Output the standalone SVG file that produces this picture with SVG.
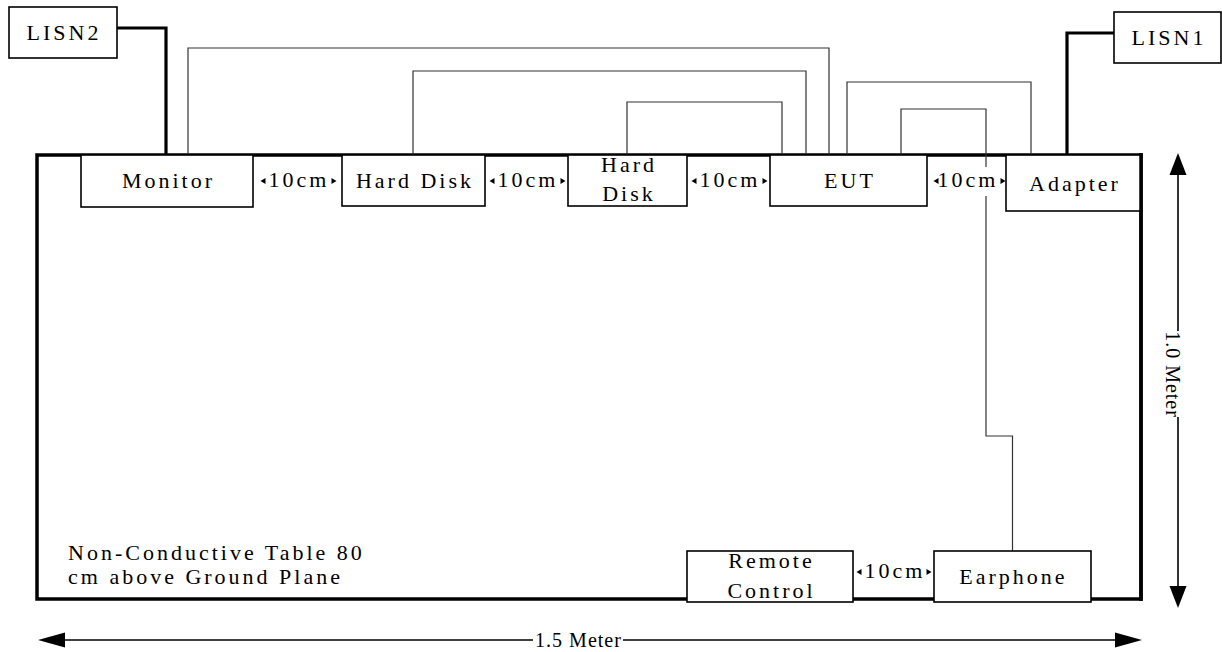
<svg xmlns="http://www.w3.org/2000/svg" width="1222" height="652" viewBox="0 0 1222 652">
<style>
.box{fill:#fff;stroke:#000;stroke-width:1.6}
.t{font-family:"Liberation Serif","Times New Roman",serif;font-size:22px;letter-spacing:3px;fill:#000;text-anchor:middle}
.tl{font-family:"Liberation Serif","Times New Roman",serif;font-size:22px;letter-spacing:3px;fill:#000}
.dim{font-family:"Liberation Serif","Times New Roman",serif;font-size:20px;letter-spacing:1px;fill:#000;text-anchor:middle}
.cable{fill:none;stroke:#333;stroke-width:1.2}
.power{fill:none;stroke:#000;stroke-width:3.2}
.dl{fill:none;stroke:#000;stroke-width:1.6}
.tri{fill:#000}
</style>
<rect width="1222" height="652" fill="#fff"/>
<g id="table">
<rect x="37" y="155" width="1104" height="444" fill="none" stroke="#000" stroke-width="3.5"/>
<text class="tl" x="68" y="560">Non-Conductive Table 80</text>
<text class="tl" x="68" y="584">cm above Ground Plane</text>
</g>
<g id="connectors">
<polyline class="power" points="117,28 166,28 166,155"/>
<polyline class="power" points="1114,33 1067,33 1067,155"/>
<polyline class="cable" points="188,155 188,48 829,48 829,155"/>
<polyline class="cable" points="413,155 413,71 806,71 806,155"/>
<polyline class="cable" points="627,155 627,102 782,102 782,155"/>
<polyline class="cable" points="847,155 847,82 1031,82 1031,155"/>
<polyline class="cable" points="901,155 901,109 986,109 986,436 1012.5,436 1012.5,551"/>
</g>
<g id="LISN2"><rect class="box" x="9" y="7" width="108" height="51"/><text class="t" x="64" y="40">LISN2</text></g>
<g id="LISN1"><rect class="box" x="1114" y="12" width="107" height="51"/><text class="t" x="1169" y="45">LISN1</text></g>
<g id="monitor"><rect class="box" x="81" y="155" width="172" height="52"/><text class="t" x="168.5" y="188">Monitor</text></g>
<g id="harddisk1"><rect class="box" x="342" y="155" width="143" height="51"/><text class="t" x="415" y="188">Hard Disk</text></g>
<g id="harddisk2"><rect class="box" x="568" y="155" width="119" height="51"/><text class="t" x="629" y="172">Hard</text><text class="t" x="629" y="201">Disk</text></g>
<g id="eut"><rect class="box" x="770" y="155" width="157" height="51"/><text class="t" x="850" y="188">EUT</text></g>
<g id="adapter"><rect class="box" x="1006" y="155" width="135" height="56"/><text class="t" x="1075" y="191">Adapter</text></g>
<g id="remote"><rect class="box" x="687" y="551" width="166" height="51"/><text class="t" x="771.5" y="568">Remote</text><text class="t" x="771.5" y="598">Control</text></g>
<g id="earphone"><rect class="box" x="934" y="551" width="157" height="51"/><text class="t" x="1013.5" y="584">Earphone</text></g>
<g id="table-edge"><line x1="1141" y1="153" x2="1141" y2="601" stroke="#000" stroke-width="3.5"/></g>
<g id="spacing-labels">
<rect x="932" y="167" width="72" height="29" fill="#fff"/>
<g transform="translate(297.5,0)">
<polygon class="tri" points="-37,181 -32,178 -32,184"/><polygon class="tri" points="39,181 34,178 34,184"/><text class="t" x="1.5" y="187">10cm</text></g>
<g transform="translate(526.5,0)">
<polygon class="tri" points="-37,181 -32,178 -32,184"/><polygon class="tri" points="39,181 34,178 34,184"/><text class="t" x="1.5" y="187">10cm</text></g>
<g transform="translate(728.5,0)">
<polygon class="tri" points="-37,181 -32,178 -32,184"/><polygon class="tri" points="39,181 34,178 34,184"/><text class="t" x="1.5" y="187">10cm</text></g>
<g transform="translate(966.5,0)">
<polygon class="tri" points="-33,181 -28,178 -28,184"/><polygon class="tri" points="39,181 34,178 34,184"/><text class="t" x="1.5" y="187">10cm</text></g>
<g transform="translate(893.5,0)">
<polygon class="tri" points="-37,572 -32,569 -32,575"/><polygon class="tri" points="38,572 33,569 33,575"/><text class="t" x="1.5" y="578">10cm</text></g>
</g>
<g id="dimensions">
<line class="dl" x1="62" y1="640" x2="533" y2="640"/>
<line class="dl" x1="623" y1="640" x2="1118" y2="640"/>
<polygon class="tri" points="38,640 65,632.5 65,647.5"/>
<polygon class="tri" points="1142,640 1115,632.5 1115,647.5"/>
<text class="dim" x="578.5" y="647">1.5 Meter</text>
<line class="dl" x1="1178" y1="172" x2="1178" y2="331"/>
<line class="dl" x1="1178" y1="417" x2="1178" y2="588"/>
<polygon class="tri" points="1178,153 1169.5,175 1186.5,175"/>
<polygon class="tri" points="1178,608 1169.5,586 1186.5,586"/>
<text class="dim" transform="translate(1166,374.5) rotate(90)" x="0" y="0">1.0 Meter</text>
</g>
</svg>
